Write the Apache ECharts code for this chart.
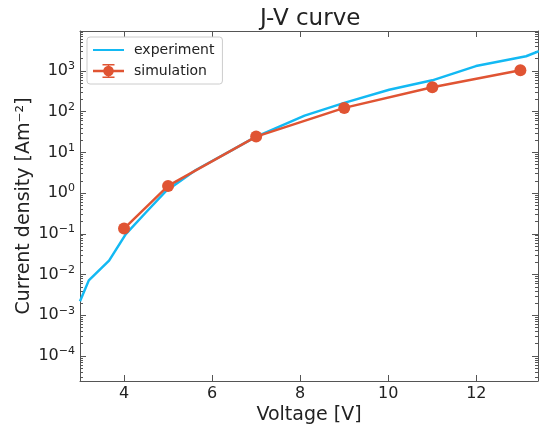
<!DOCTYPE html>
<html style="height: 100%">
   <head>
       <meta charset="utf-8">
   </head>
   <body style="height: 100%; margin: 0">
       <div id="container" style="width: 539px; height: 430px"></div>
       <script type="text/javascript" src="https://cdn.jsdelivr.net/npm/echarts/dist/echarts.min.js"></script>
       <script type="text/javascript">
// measured data (voltage in V, current density in A/m^2)
var experimentV = [3.0, 3.2, 3.66, 4.04, 4.49, 4.95, 5.63, 6.39, 6.99, 8.1, 9.0, 10.02, 11.0, 11.99, 13.13, 13.42];
var experimentJ = [0.0022, 0.0072, 0.022, 0.098, 0.33, 1.12, 3.7, 10.5, 24, 80, 165, 345, 590, 1320, 2300, 3080];
var simulationV = [4, 5, 7, 9, 11, 13];
var simulationJ = [0.135, 1.5, 24.5, 124, 400, 1040];

var xTicks = [4, 6, 8, 10, 12];
var yTicks = [1e-4, 1e-3, 1e-2, 1e-1, 1, 10, 100, 1000];

// minor ticks 2..9 x 10^e, like matplotlib
var yMinorTicks = [];
for (var e = -5; e <= 3; e++) {
    for (var m = 2; m <= 9; m++) {
        yMinorTicks.push(m * Math.pow(10, e));
    }
}

var xMin = 3.0, xMax = 13.4;
var yMin = 2.43e-5, yMax = 9.6e3;

var dom = document.getElementById("container");
var myChart = echarts.init(dom);
var textColor = '#222';
var spineColor = '#555';
var font = 'DejaVu Sans';

// line + marker + errorbar, as in the matplotlib legend
var errIcon = 'path://M0 5.75H31V8.25H0Z' +
    'M10.2 7A5.3 5.3 0 1 1 20.8 7A5.3 5.3 0 1 1 10.2 7Z' +
    'M14.75 0H16.25V14H14.75Z' +
    'M9.5 0H21.5V1.5H9.5Z' +
    'M9.5 12.5H21.5V14H9.5Z';

function powLabel(v) {
    var p = Math.round(Math.log10(v));
    return '{b|10}{s|' + (p < 0 ? '\u2212' + (-p) : p) + '}';
}

function zip(a, b) {
    return a.map(function (v, i) { return [v, b[i]]; });
}

function yAxisDef(pos, withLabels, ticks, len, showLine) {
    return {
        type: 'log',
        logBase: 10,
        position: pos,
        min: yMin,
        max: yMax,
        gridIndex: 0,
        name: withLabels ? 'Current density [Am\u207b\u00b2]' : '',
        nameLocation: 'middle',
        nameGap: 46,
        nameMoveOverlap: false,
        nameTextStyle: {fontFamily: font, fontSize: 19, color: textColor},
        axisLine: {show: showLine, lineStyle: {color: spineColor, width: 1}},
        axisTick: {show: true, inside: true, length: len, customValues: ticks,
                   lineStyle: {color: spineColor, width: 1}},
        axisLabel: {show: withLabels, customValues: yTicks, margin: 5,
                    formatter: powLabel,
                    rich: {
                        b: {fontFamily: font, fontSize: 16, color: textColor, lineHeight: 20},
                        s: {fontFamily: font, fontSize: 11, color: textColor, verticalAlign: 'top', lineHeight: 12}
                    }},
        splitLine: {show: false}
    };
}

function xAxisDef(pos, withLabels) {
    return {
        type: 'value',
        position: pos,
        min: xMin,
        max: xMax,
        name: withLabels ? 'Voltage [V]' : '',
        nameLocation: 'middle',
        nameGap: 25,
        nameMoveOverlap: false,
        nameTextStyle: {fontFamily: font, fontSize: 19, color: textColor},
        axisLine: {show: true, onZero: false, lineStyle: {color: spineColor, width: 1}},
        axisTick: {show: true, inside: true, length: 6, customValues: xTicks,
                   lineStyle: {color: spineColor, width: 1}},
        axisLabel: {show: withLabels, customValues: xTicks, margin: 5,
                    fontFamily: font, fontSize: 16, color: textColor},
        splitLine: {show: false}
    };
}

option = {
    backgroundColor: '#fff',
    animation: false,
    title: {
        text: 'J-V curve',
        left: 255,
        top: 3,
        textStyle: {fontFamily: font, fontSize: 23, fontWeight: 'normal', color: textColor}
    },
    legend: {
        orient: 'vertical',
        left: 87,
        top: 37,
        padding: [6, 8, 6, 5],
        itemWidth: 31,
        itemHeight: 14,
        itemGap: 7,
        backgroundColor: '#fff',
        borderColor: '#ccc',
        borderWidth: 1,
        borderRadius: 3,
        textStyle: {fontFamily: font, fontSize: 14, color: textColor, padding: [0, 0, 0, 5]},
        data: [
            {name: 'experiment', itemStyle: {opacity: 0}},
            {name: 'simulation', icon: errIcon}
        ]
    },
    grid: {left: 80, right: 1, top: 31, bottom: 45},
    xAxis: [xAxisDef('bottom', true), xAxisDef('top', false)],
    yAxis: [
        yAxisDef('left', true, yTicks, 6, true),
        yAxisDef('right', false, yTicks, 6, true),
        yAxisDef('left', false, yMinorTicks, 3, false),
        yAxisDef('right', false, yMinorTicks, 3, false)
    ],
    series: [
        {
            name: 'experiment',
            type: 'line',
            xAxisIndex: 0,
            yAxisIndex: 0,
            symbol: 'none',
            lineStyle: {color: '#13b9f3', width: 2.5},
            itemStyle: {color: '#13b9f3'},
            data: zip(experimentV, experimentJ)
        },
        {
            name: 'simulation',
            type: 'line',
            xAxisIndex: 0,
            yAxisIndex: 0,
            symbol: 'circle',
            symbolSize: 12,
            lineStyle: {color: '#e05433', width: 2.5},
            itemStyle: {color: '#e05433'},
            data: zip(simulationV, simulationJ)
        }
    ]
};

if (option && typeof option === "object") {
    myChart.setOption(option, true);
}
       </script>
   </body>
</html>
